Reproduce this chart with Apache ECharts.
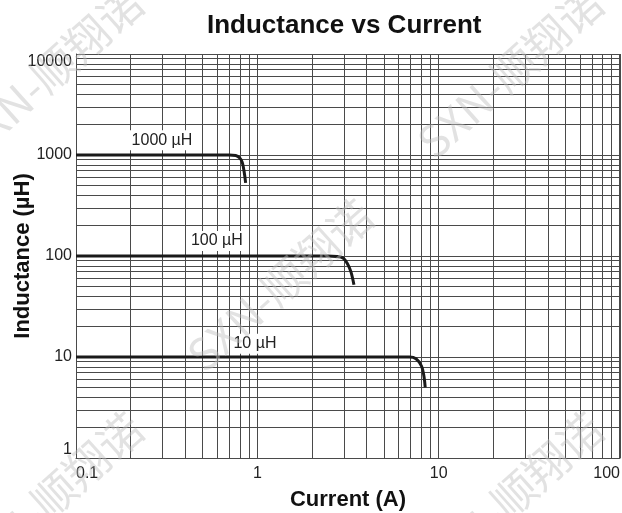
<!DOCTYPE html>
<html>
<head>
<meta charset="utf-8">
<script src="https://cdn.jsdelivr.net/npm/echarts@6/dist/echarts.min.js"></script>
<style>html,body{margin:0;padding:0;background:#fff}#c{width:622px;height:513px}</style>
</head>
<body>
<div id="c"></div>
<script>
// ---- data ----
var xMinorTicks = [0.2,0.3,0.4,0.5,0.6,0.7,0.8,0.9,2,3,4,5,6,7,8,9,20,30,40,50,60,70,80,90];
var yMinorTicks = [2,3,4,5,6,7,8,9,20,30,40,50,60,70,80,90,200,300,400,500,600,700,800,900,2000,3000,4000,5000,6000,7000,8000,9000];
var curve1000 = [[0.1,1000],[0.7,1000],[0.76,990],[0.8,935],[0.825,850],[0.845,690],[0.862,530]];
var curve100  = [[0.1,100],[2.45,100],[2.75,99],[2.98,95],[3.15,83],[3.28,70],[3.41,52]];
var curve10   = [[0.1,10],[6.9,10],[7.5,9.6],[8.05,8.1],[8.3,6.4],[8.43,5]];
var curveLabels = [
  {name:'1000 µH', coord:[0.298,1400]},
  {name:'100 µH',  coord:[0.598,141]},
  {name:'10 µH',   coord:[0.97,13.5]}
];
var watermarkText = 'SXN-顺翔诺';
var watermarkCenters = [[50,72],[510,72],[280,285],[50,498],[510,498]];

// ---- chart ----
var chart = echarts.init(document.getElementById('c'), null, {renderer:'canvas'});
var gridColor = '#4a4a4a';
var curveStyle = {color:'#1a1a1a', width:3};
function curveSeries(data, lbl){
  return {
    type:'line', data:data, showSymbol:false, smooth:0.35, z:5,
    lineStyle:curveStyle, itemStyle:{color:'#1a1a1a'},
    markPoint:{
      symbol:'circle', symbolSize:0, silent:true,
      label:{show:true, position:'inside', formatter:lbl.name, color:'#222',
             fontFamily:'Liberation Sans', fontSize:16, backgroundColor:'#fff', padding:[2,3]},
      data:[{coord:lbl.coord}]
    }
  };
}
var gridMarks = [];
xMinorTicks.forEach(function(v){ gridMarks.push({xAxis:v}); });
yMinorTicks.forEach(function(v){ gridMarks.push({yAxis:v}); });

var wm = watermarkCenters.map(function(c){
  return {type:'text', x:c[0], y:c[1], rotation:0.73, z:100, silent:true,
    style:{text:watermarkText, fill:'rgba(190,190,190,0.45)', font:'44px "Noto Sans CJK SC", "Liberation Sans"',
           textAlign:'center', textVerticalAlign:'middle'}};
});

chart.setOption({
  animation:false,
  backgroundColor:'#fff',
  title:{text:'Inductance vs Current', left:202, top:8,
    textStyle:{fontFamily:'Liberation Sans', fontSize:26, fontWeight:'bold', color:'#111'}},
  grid:{left:76, top:54, width:544, height:404, containLabel:false, outerBoundsMode:'none',
        show:false},
  xAxis:{
    type:'log', logBase:10, min:0.1, max:100,
    name:'Current (A)', nameLocation:'middle', nameGap:31, nameMoveOverlap:false,
    nameTextStyle:{fontFamily:'Liberation Sans', fontSize:22, fontWeight:'bold', color:'#111'},
    axisLine:{show:true, lineStyle:{color:gridColor, width:1}},
    axisTick:{show:false},
    minorTick:{show:false}, minorSplitLine:{show:false},
    splitLine:{show:true, lineStyle:{color:gridColor, width:1}},
    axisLabel:{fontFamily:'Liberation Sans', fontSize:16, color:'#222', margin:8,
      alignMinLabel:'left', alignMaxLabel:'right',
      formatter:function(v){ return String(+v.toPrecision(3)); }}
  },
  yAxis:{
    type:'log', logBase:10, min:1, max:10000,
    name:'Inductance (µH)', nameLocation:'middle', nameGap:42, nameRotate:90, nameMoveOverlap:false,
    nameTextStyle:{fontFamily:'Liberation Sans', fontSize:22, fontWeight:'bold', color:'#111'},
    axisLine:{show:true, lineStyle:{color:gridColor, width:1}},
    axisTick:{show:false},
    minorTick:{show:false}, minorSplitLine:{show:false},
    splitLine:{show:true, lineStyle:{color:gridColor, width:1}},
    axisLabel:{fontFamily:'Liberation Sans', fontSize:16, color:'#222', margin:4,
      verticalAlignMinLabel:'bottom', verticalAlignMaxLabel:'top',
      formatter:function(v){ return String(Math.round(v)); }}
  },
  graphic:[
    {type:'rect', shape:{x:619.5, y:54, width:0, height:404}, style:{stroke:gridColor, lineWidth:1, fill:null}, z:1}
  ].concat(wm),
  series:[
    {type:'line', data:[[0.1,1]], showSymbol:false, lineStyle:{width:0}, z:1, silent:true,
     markLine:{silent:true, symbol:['none','none'], label:{show:false},
       lineStyle:{color:gridColor, width:1, type:'solid'}, emphasis:{disabled:true},
       data:gridMarks}},
    curveSeries(curve1000, curveLabels[0]),
    curveSeries(curve100, curveLabels[1]),
    curveSeries(curve10, curveLabels[2])
  ]
});
</script>
</body>
</html>
